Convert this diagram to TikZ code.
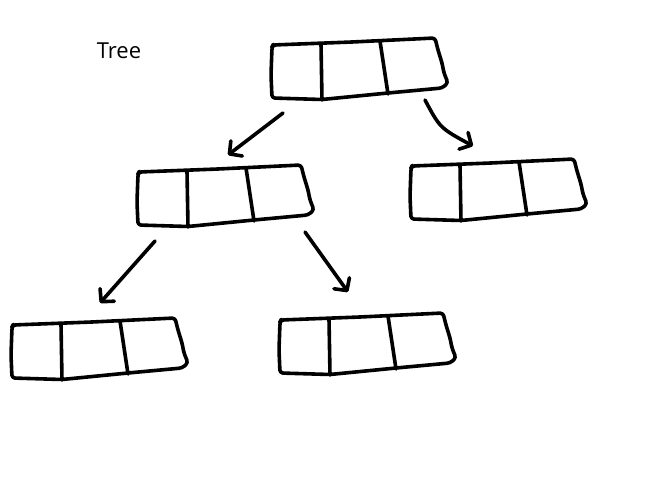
\documentclass[tikz,border=0pt]{standalone}
\usepackage{fontspec}
\setmainfont{Open Sans}
\usetikzlibrary{arrows.meta}
\tikzset{
  ink/.style={line width=3.6pt, line cap=round, line join=round, black},
  arr/.style={ink, -{Straight Barb[length=9pt,width=19pt,line cap=round,line join=round]}},
  pics/cellbox/.style={code={
    \draw[ink, rounded corners=3pt] (0,2) -- (1,0) -- (80,-3) -- (163,-7) -- (166,5) -- (170,18) -- (172,28) -- (176,38) -- (170,43) -- (116,48) -- (50,54.5) -- (0,53) -- (-1,30) -- cycle;
    \draw[ink] (49,-1) -- (50,55);
    \draw[ink] (108,-4) -- (116,49);
  }}
}
\begin{document}
\begin{tikzpicture}[x=1pt,y=-1pt]
\useasboundingbox (0,0) rectangle (665,495);
\node[font=\fontsize{22}{25}\selectfont, inner sep=0pt] (title) at (119,51) {Tree};
\pic (b1) at (272,45) {cellbox};
\pic (b2) at (138,172) {cellbox};
\pic (b3) at (411,166) {cellbox};
\pic (b4) at (12,325) {cellbox};
\pic (b5) at (280,320) {cellbox};
\coordinate (a1s) at (283,113);
\coordinate (a1e) at (228,155);
\coordinate (a2s) at (425,100);
\coordinate (a2c) at (440,128);
\coordinate (a2e) at (473,146);
\coordinate (a3s) at (155,241);
\coordinate (a3e) at (100,303);
\coordinate (a4s) at (305,232);
\coordinate (a4c) at (325,260);
\coordinate (a4e) at (348,292);
\draw[arr] (a1s) -- (a1e);
\draw[arr] (a2s) .. controls (a2c) .. (a2e);
\draw[arr] (a3s) -- (a3e);
\draw[arr] (a4s) .. controls (a4c) .. (a4e);
\end{tikzpicture}
\end{document}
